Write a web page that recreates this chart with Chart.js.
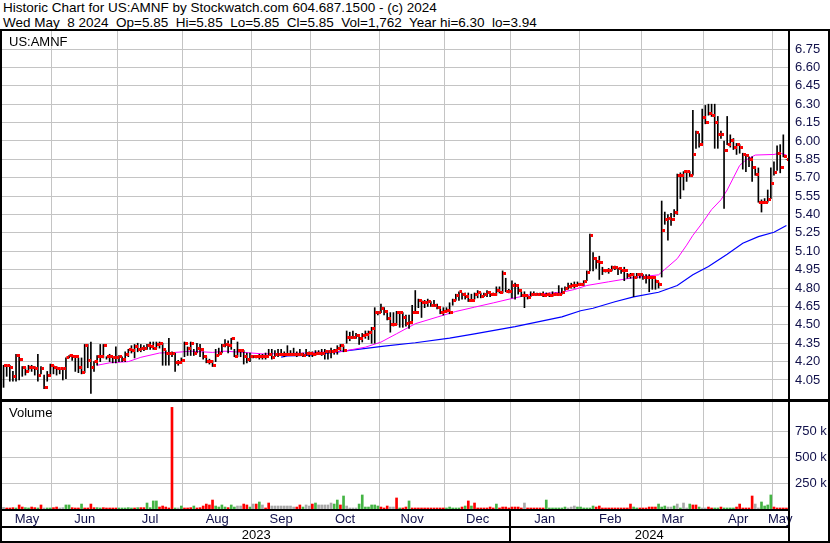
<!DOCTYPE html>
<html>
<head>
<meta charset="utf-8">
<script src="https://cdn.jsdelivr.net/npm/chart.js@4.4.1/dist/chart.umd.min.js"></script>
<style>
body { margin: 0; background: #fff; }
#wrap { position: relative; width: 830px; height: 543px; background: #fff; overflow: hidden; font-family: "Liberation Sans", Arial, sans-serif; }
.hdr { position: absolute; left: 3px; font-size: 13.5px; line-height: 15px; white-space: pre; color: #000; }
.lbl { position: absolute; left: 9px; font-size: 13px; color: #000; }
.ln { position: absolute; background: #000; }
.grid { position: absolute; height: 1px; background: #c4c4c4; }
canvas { position: absolute; left: 0; }
</style>
</head>
<body>
<div id="wrap">
  <div class="hdr" style="top:0px">Historic Chart for US:AMNF by Stockwatch.com 604.687.1500 - (c) 2024</div>
  <div class="hdr" style="top:15px">Wed May  8 2024  Op=5.85  Hi=5.85  Lo=5.85  Cl=5.85  Vol=1,762  Year hi=6.30  lo=3.94</div>
  <canvas id="price" width="830" height="368" style="top:31px"></canvas>
  <canvas id="volume" width="830" height="141" style="top:402px"></canvas>
  <div class="lbl" style="top:34px">US:AMNF</div>
  <div class="lbl" style="top:405px">Volume</div>
  <div class="ln" style="left:0;top:29px;width:830px;height:2px"></div>
  <div class="ln" style="left:0;top:29px;width:2px;height:514px"></div>
  <div class="ln" style="left:828px;top:29px;width:2px;height:514px"></div>
  <div class="ln" style="left:788px;top:29px;width:2px;height:514px"></div>
  <div class="ln" style="left:0;top:399px;width:830px;height:3px"></div>
  <div class="ln" style="left:0;top:509px;width:790px;height:2px"></div>
  <div class="ln" style="left:0;top:526px;width:790px;height:2px"></div>
  <div class="ln" style="left:0;top:541px;width:830px;height:2px"></div>
</div>
<script>
// daily bars, May 9 2023 .. May 8 2024
const highs = [
  4.17,4.17,4.17,4.12,4.26,4.24,4.16,4.15,4.17,4.17,
  4.16,4.26,4.16,4.09,4.12,4.18,4.17,4.16,4.14,4.15,
  4.23,4.25,4.25,4.25,4.23,4.23,4.34,4.34,4.36,4.20,
  4.25,4.34,4.34,4.24,4.26,4.24,4.32,4.25,4.24,4.28,
  4.30,4.33,4.34,4.35,4.34,4.33,4.34,4.36,4.36,4.36,
  4.36,4.35,4.29,4.39,4.28,4.27,4.21,4.23,4.36,4.32,
  4.36,4.30,4.35,4.34,4.28,4.24,4.22,4.21,4.30,4.31,
  4.34,4.38,4.37,4.39,4.30,4.36,4.30,4.29,4.27,4.27,
  4.25,4.25,4.26,4.26,4.27,4.30,4.30,4.29,4.30,4.30,
  4.28,4.33,4.29,4.31,4.28,4.30,4.27,4.30,4.28,4.28,
  4.29,4.29,4.30,4.30,4.29,4.31,4.30,4.33,4.34,4.33,
  4.45,4.44,4.45,4.43,4.42,4.43,4.45,4.45,4.48,4.64,
  4.61,4.67,4.64,4.61,4.60,4.60,4.61,4.61,4.60,4.58,
  4.58,4.66,4.78,4.71,4.70,4.70,4.71,4.69,4.70,4.67,
  4.63,4.64,4.64,4.68,4.71,4.75,4.77,4.76,4.76,4.76,
  4.75,4.76,4.78,4.76,4.76,4.78,4.76,4.76,4.81,4.81,
  4.94,4.88,4.79,4.86,4.84,4.81,4.77,4.77,4.74,4.77,
  4.77,4.76,4.76,4.77,4.76,4.76,4.77,4.76,4.82,4.80,
  4.81,4.84,4.84,4.85,4.85,4.84,4.86,4.94,5.24,5.09,
  5.05,5.06,4.97,4.95,4.96,4.98,4.98,4.96,4.97,4.97,
  4.92,4.92,4.92,4.92,4.92,4.91,4.91,4.91,4.89,4.87,
  4.85,5.51,5.42,5.40,5.41,5.44,5.73,5.74,5.75,5.75,
  5.75,6.25,6.08,6.06,6.26,6.29,6.30,6.30,6.30,6.20,
  6.08,6.00,6.20,6.05,6.02,5.98,5.97,5.90,5.89,5.87,
  5.87,5.79,5.78,5.52,5.53,5.60,5.78,5.83,5.96,5.97,
  6.05,5.85
];
const lows = [
  3.99,4.08,4.04,4.04,4.04,4.05,4.08,4.09,4.12,4.12,
  4.09,4.04,4.10,3.98,4.04,4.09,4.10,4.09,4.10,4.05,
  4.06,4.23,4.21,4.12,4.11,4.10,4.11,4.15,3.94,4.12,
  4.17,4.20,4.23,4.22,4.20,4.19,4.19,4.20,4.20,4.20,
  4.24,4.27,4.23,4.28,4.28,4.29,4.30,4.30,4.30,4.31,
  4.31,4.17,4.17,4.17,4.24,4.12,4.17,4.20,4.24,4.25,
  4.25,4.25,4.27,4.24,4.22,4.19,4.18,4.16,4.20,4.25,
  4.27,4.32,4.27,4.30,4.24,4.24,4.24,4.18,4.19,4.20,
  4.23,4.23,4.22,4.22,4.22,4.25,4.22,4.24,4.24,4.25,
  4.24,4.25,4.25,4.25,4.24,4.25,4.24,4.25,4.24,4.24,
  4.25,4.26,4.25,4.22,4.22,4.23,4.26,4.26,4.29,4.28,
  4.35,4.37,4.39,4.39,4.34,4.36,4.39,4.38,4.35,4.35,
  4.58,4.60,4.58,4.54,4.44,4.49,4.50,4.48,4.48,4.49,
  4.47,4.51,4.60,4.64,4.56,4.64,4.65,4.65,4.65,4.63,
  4.59,4.58,4.60,4.59,4.66,4.70,4.70,4.71,4.71,4.69,
  4.69,4.71,4.72,4.72,4.73,4.73,4.73,4.74,4.74,4.76,
  4.76,4.77,4.76,4.72,4.71,4.75,4.73,4.64,4.71,4.73,
  4.74,4.74,4.74,4.73,4.74,4.73,4.73,4.74,4.74,4.75,
  4.78,4.79,4.80,4.80,4.82,4.82,4.82,4.86,4.94,4.94,
  4.96,4.87,4.91,4.93,4.92,4.94,4.95,4.91,4.92,4.86,
  4.88,4.88,4.73,4.88,4.88,4.87,4.84,4.77,4.79,4.79,
  4.80,4.89,5.32,5.19,5.31,5.38,5.40,5.53,5.60,5.67,
  5.71,5.72,5.94,5.95,5.97,6.14,6.21,6.20,5.94,5.94,
  6.02,5.45,5.97,5.95,5.93,5.89,5.90,5.77,5.75,5.79,
  5.67,5.72,5.50,5.42,5.49,5.50,5.53,5.72,5.76,5.74,
  5.87,5.85
];
const closes = [
  4.17,4.17,4.15,4.08,4.25,4.22,4.15,4.12,4.15,4.15,
  4.14,4.09,4.14,3.99,4.09,4.17,4.15,4.14,4.14,4.14,
  4.23,4.25,4.24,4.24,4.15,4.11,4.33,4.21,4.15,4.20,
  4.24,4.24,4.33,4.24,4.24,4.23,4.23,4.24,4.22,4.26,
  4.30,4.29,4.32,4.30,4.31,4.31,4.33,4.32,4.31,4.34,
  4.35,4.30,4.27,4.27,4.27,4.19,4.19,4.21,4.35,4.31,
  4.35,4.27,4.31,4.30,4.24,4.20,4.20,4.17,4.25,4.27,
  4.33,4.34,4.33,4.39,4.24,4.29,4.29,4.24,4.22,4.24,
  4.24,4.24,4.24,4.24,4.24,4.26,4.23,4.26,4.26,4.26,
  4.26,4.26,4.26,4.26,4.26,4.26,4.25,4.27,4.27,4.26,
  4.27,4.27,4.27,4.28,4.28,4.28,4.29,4.31,4.33,4.29,
  4.40,4.40,4.40,4.41,4.39,4.41,4.42,4.44,4.47,4.60,
  4.60,4.63,4.61,4.55,4.50,4.50,4.60,4.60,4.56,4.51,
  4.52,4.60,4.60,4.70,4.68,4.68,4.69,4.66,4.66,4.64,
  4.60,4.61,4.62,4.60,4.70,4.74,4.77,4.75,4.73,4.70,
  4.70,4.75,4.76,4.73,4.75,4.76,4.75,4.75,4.78,4.76,
  4.92,4.77,4.77,4.82,4.82,4.78,4.74,4.74,4.72,4.75,
  4.75,4.75,4.75,4.74,4.75,4.74,4.75,4.75,4.75,4.76,
  4.80,4.81,4.82,4.82,4.83,4.83,4.85,4.93,5.23,5.04,
  5.02,5.01,4.94,4.94,4.94,4.97,4.97,4.96,4.94,4.94,
  4.90,4.91,4.89,4.91,4.91,4.89,4.89,4.89,4.89,4.85,
  4.83,5.27,5.36,5.37,5.36,5.42,5.72,5.72,5.75,5.75,
  5.72,5.89,6.07,5.97,6.19,6.15,6.22,6.21,6.15,6.05,
  6.05,5.92,5.97,6.00,5.95,5.97,5.95,5.89,5.88,5.85,
  5.78,5.73,5.50,5.50,5.50,5.52,5.65,5.74,5.90,5.78,
  5.87,5.85
];
// volume in thousands; colour codes: r = red, g = green, n = grey
const volumesK = [
  16,10,10,13,10,39,19,13,10,19, 13,10,39,5,10,10,13,19,10,13,
  39,39,13,10,10,48,10,10,48,13, 13,10,13,10,10,10,10,10,10,10,
  13,10,10,13,13,13,58,13,78,78, 19,29,19,10,985,10,10,29,10,10,
  13,29,10,13,29,48,39,87,29,19, 39,19,13,39,19,29,29,48,39,19,
  48,48,68,39,10,58,29,29,29,29, 29,29,29,19,19,39,19,39,29,48,
  58,39,39,39,39,58,48,87,39,126, 29,10,10,10,48,136,19,19,39,39,
  29,19,10,29,19,19,107,10,10,19, 78,10,10,10,10,10,10,10,10,10,
  10,10,10,19,10,10,10,19,29,78, 29,58,10,10,10,10,19,10,48,10,
  19,19,10,19,19,19,10,58,10,10, 10,10,10,10,87,10,10,10,10,10,
  19,10,19,29,19,19,10,10,10,29, 19,29,10,10,10,10,10,10,10,10,
  10,48,19,10,10,10,10,19,19,19, 48,19,29,19,19,29,48,10,58,10,
  48,39,39,19,10,10,19,10,10,10, 19,10,10,10,10,19,48,10,10,10,
  126,48,10,68,29,39,136,19,10,10, 10,2
];
const volumeColorCodes = [
  'nrrrgrrggr','rgrnggrrnn','ggrrrgrrrr','ggrrrrrggg','ggrgrrgggg',
  'rrrrrgngrr','rgrrrrrrgg','ggrggnnrrg','nrgnrrnnnn','nnnnrrgnnr',
  'gnnnnnggrg','nnnngggggg','grrrnnrgrr','grrrrrrrrr','rrgggggrgr',
  'grrrrrrrgr','rrrrrrrnrr','rrrrgggggg','gnnngggggg','rrrrrrrrrr',
  'rrggrrrrrr','gggnngngnn','grrgnnrrgg','rggggrrrrr','rnnggggrrr',
  'rr'
].join('').split('');

const monthNames = ['May','Jun','Jul','Aug','Sep','Oct','Nov','Dec','Jan','Feb','Mar','Apr','May'];
const monthBars = [16,21,21,22,19,22,21,21,22,20,20,22,5];
const yearNames = ['2023','2024'];
const yearBars = [163,89];
const priceTicks = [4.05,4.20,4.35,4.50,4.65,4.80,4.95,5.10,5.25,5.40,5.55,5.70,5.85,6.00,6.15,6.30,6.45,6.60,6.75];
const volumeTicks = [250000,500000,750000];

// moving averages: [bar index, price]
const maPink = [
  [30,4.17],[34,4.19],[40,4.20],[44,4.235],[50,4.27],[55,4.275],[60,4.285],[67,4.275],[71,4.285],
  [77,4.275],[83,4.263],[90,4.265],[97,4.27],[100,4.277],[107,4.278],[110,4.29],[116,4.318],
  [121,4.359],[126,4.427],[132,4.509],[139,4.563],[145,4.609],[151,4.644],[157,4.679],[163,4.715],
  [169,4.747],[179,4.766],[183,4.788],[187,4.821],[194,4.851],[202,4.885],[210,4.908],[216,5.04],
  [219,5.15],[221,5.23],[224,5.33],[227,5.44],[230,5.52],[232,5.60],[234,5.70],[236,5.80],
  [238,5.845],[241,5.885],[247,5.89],[249,5.90],[251,5.885]
];
const maBlue = [
  [89,4.236],[91,4.247],[97,4.25],[101,4.26],[111,4.291],[122,4.327],[132,4.354],[143,4.392],
  [151,4.427],[164,4.486],[179,4.565],[185,4.615],[189,4.635],[196,4.688],[202,4.728],[210,4.766],
  [216,4.821],[221,4.908],[226,4.976],[232,5.076],[237,5.166],[242,5.22],[247,5.255],[251,5.31]
];

const n = closes.length;
const xMin = -0.5, xMax = n - 0.5;
const monthEdges = [], monthMids = [];
let acc = 0;
monthBars.forEach(c => { monthMids.push(acc + c / 2 - 0.5); acc += c; monthEdges.push(acc - 0.5); });
monthEdges.pop();
const yearMids = [];
acc = 0;
yearBars.forEach(c => { yearMids.push(acc + c / 2 - 0.5); acc += c; });
const yearEdge = yearBars[0] - 0.5;

const gridGrey = '#c4c4c4';
const axisText = '#10104a';
const font13 = { family: 'Liberation Sans', size: 13 };
const colorMap = { r: '#ff0000', g: '#44b444', n: '#a8a8a8' };

// no extra room for labels at the ends of an axis
function noPad(s) { s.paddingTop = 0; s.paddingBottom = 0; s.paddingLeft = 0; s.paddingRight = 0; }

// horizontal grid rows placed from the chart's y scale, under the transparent canvas
function addGridRows(chart, values) {
  const wrap = document.getElementById('wrap');
  const ys = chart.scales.y, a = chart.chartArea;
  const top = chart.canvas.offsetTop;
  values.forEach(v => {
    const d = document.createElement('div');
    d.className = 'grid';
    d.style.left = a.left + 'px';
    d.style.width = (a.right - a.left) + 'px';
    d.style.top = (top + Math.round(ys.getPixelForValue(v) - 0.5)) + 'px';
    wrap.insertBefore(d, wrap.querySelector('canvas'));
  });
}

// red close tick to the right of the high-low line
const closeMark = document.createElement('canvas');
closeMark.width = 7;
closeMark.height = 3;
const cm = closeMark.getContext('2d');
cm.fillStyle = '#ff0000';
cm.fillRect(4, 0, 3, 3);

const priceMin = 3.895, priceMax = 6.897;
const priceChart = new Chart(document.getElementById('price'), {
  type: 'bar',
  data: {
    datasets: [
      {
        type: 'line', data: maPink.map(p => ({ x: p[0], y: p[1] })),
        borderColor: '#ff00ff', borderWidth: 1, pointRadius: 0, tension: 0, order: 2
      },
      {
        type: 'line', data: maBlue.map(p => ({ x: p[0], y: p[1] })),
        borderColor: '#0000ff', borderWidth: 1.2, pointRadius: 0, tension: 0, order: 2
      },
      {
        type: 'bar', data: closes.map((c, i) => ({ x: i, y: [lows[i], highs[i]] })),
        backgroundColor: '#000', barThickness: 1, grouped: false, order: 1
      },
      {
        type: 'line', data: closes.map((c, i) => ({ x: i, y: c })),
        showLine: false, pointStyle: closeMark, pointRadius: 2, pointHoverRadius: 2, order: 0
      }
    ]
  },
  options: {
    responsive: false,
    animation: false,
    devicePixelRatio: 1,
    layout: { autoPadding: false, padding: { left: 2, right: 0, top: 0, bottom: 0 } },
    plugins: { legend: { display: false }, tooltip: { enabled: false } },
    scales: {
      x: {
        type: 'linear', min: xMin, max: xMax, offset: false,
        afterBuildTicks: s => { s.ticks = monthEdges.map(v => ({ value: v })); },
        ticks: { display: false },
        grid: { offset: false, color: gridGrey, drawTicks: false },
        border: { display: false },
        afterFit: s => { s.height = 0; noPad(s); }
      },
      y: {
        position: 'right', min: priceMin, max: priceMax,
        afterBuildTicks: s => { s.ticks = priceTicks.map(v => ({ value: v })); },
        ticks: { autoSkip: false, callback: v => v.toFixed(2), color: axisText, font: font13, padding: 7 },
        grid: { color: gridGrey, drawTicks: false },
        border: { display: false },
        afterFit: s => { s.width = 42; noPad(s); }
      }
    }
  }
});
addGridRows(priceChart, priceTicks);

const yearDivider = {
  id: 'yearDivider',
  afterDraw(chart) {
    const xs = chart.scales.x, yr = chart.scales.xy;
    const px = xs.getPixelForValue(yearEdge);
    chart.ctx.save();
    chart.ctx.fillStyle = '#000';
    chart.ctx.fillRect(Math.round(px) - 1, xs.top, 2, yr.bottom - xs.top);
    chart.ctx.restore();
  }
};

const volMax = 1037000;
const volumeChart = new Chart(document.getElementById('volume'), {
  type: 'bar',
  data: {
    datasets: [{
      data: volumesK.map((v, i) => ({ x: i, y: v * 1000 })),
      backgroundColor: volumeColorCodes.map(c => colorMap[c]),
      barThickness: 2, minBarLength: 1, grouped: false
    }]
  },
  options: {
    responsive: false,
    animation: false,
    devicePixelRatio: 1,
    layout: { autoPadding: false, padding: { left: 2, right: 0, top: 0, bottom: 2 } },
    plugins: { legend: { display: false }, tooltip: { enabled: false } },
    scales: {
      x: {
        type: 'linear', position: 'bottom', weight: 0, min: xMin, max: xMax, offset: false,
        afterBuildTicks: s => {
          s.ticks = monthEdges.concat(monthMids).sort((a, b) => a - b).map(v => ({ value: v }));
        },
        ticks: {
          autoSkip: false, maxRotation: 0, padding: 3, color: axisText, font: font13,
          callback: v => { const k = monthMids.indexOf(v); return k >= 0 ? monthNames[k] : ''; }
        },
        grid: {
          offset: false, drawTicks: false,
          color: c => (c.tick && monthEdges.includes(c.tick.value)) ? gridGrey : 'rgba(0,0,0,0)'
        },
        border: { display: false },
        afterFit: s => { s.height = 18; noPad(s); }
      },
      xy: {
        type: 'linear', position: 'bottom', weight: 1, min: xMin, max: xMax, offset: false,
        afterBuildTicks: s => { s.ticks = yearMids.map(v => ({ value: v })); },
        ticks: {
          autoSkip: false, maxRotation: 0, padding: 1, color: '#000', font: font13,
          callback: v => yearNames[yearMids.indexOf(v)]
        },
        grid: { display: false, drawTicks: false },
        border: { display: false },
        afterFit: s => { s.height = 14; noPad(s); }
      },
      y: {
        position: 'right', min: 0, max: volMax,
        afterBuildTicks: s => { s.ticks = volumeTicks.map(v => ({ value: v })); },
        ticks: { autoSkip: false, callback: v => (v / 1000) + ' k', color: axisText, font: font13, padding: 7 },
        grid: { color: gridGrey, drawTicks: false },
        border: { display: false },
        afterFit: s => { s.width = 42; noPad(s); }
      }
    }
  },
  plugins: [yearDivider]
});
addGridRows(volumeChart, volumeTicks);
</script>
</body>
</html>
